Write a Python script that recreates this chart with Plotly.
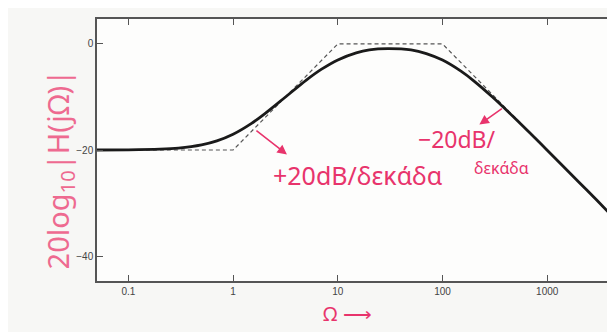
import plotly.graph_objects as go

# Magnitude response (Omega, dB)
omega = [0.05, 0.1, 0.2, 0.3, 0.5, 0.7, 1, 1.5, 2, 3, 5, 7, 10, 15, 20, 30,
         50, 70, 100, 150, 200, 300, 500, 700, 1000, 2000, 3000, 4540]
mag_db = [-20.0, -19.96, -19.83, -19.63, -19.03, -18.28, -17.03, -14.98, -13.18,
          -10.38, -6.82, -4.76, -3.01, -1.68, -1.13, -0.9, -1.14, -1.82, -3.05,
          -5.14, -7.0, -10.01, -14.15, -16.99, -20.04, -26.02, -29.54, -33.2]

# Straight-line asymptotes
asym_omega = [0.05, 1, 10, 100, 4540]
asym_db = [-20, -20, 0, 0, -33.2]

x_tickvals = [0.1, 1, 10, 100, 1000]
x_ticktext = ["0.1", "1", "10", "100", "1000"]
y_tickvals = [0, -20, -40]
y_ticktext = ["0", "\u221220", "\u221240"]

PINK = "#e8346c"
HAND = "Noto Sans"

fig = go.Figure()
fig.add_trace(go.Scatter(x=asym_omega, y=asym_db, mode="lines",
                         line=dict(color="#555555", width=1.2, dash="4px,3px"),
                         hoverinfo="skip"))
fig.add_trace(go.Scatter(x=omega, y=mag_db, mode="lines",
                         line=dict(color="#1a1a1a", width=2.8, shape="spline", smoothing=0.8),
                         hoverinfo="skip"))

axis_common = dict(showgrid=False, zeroline=False, showline=True, linecolor="#555555",
                   linewidth=1.5, mirror="ticks", ticks="inside", ticklen=6,
                   tickcolor="#555555", tickwidth=1,
                   tickfont=dict(family="Liberation Sans", size=10, color="#444444"))

fig.update_xaxes(type="log", range=[-1.3, 3.657], tickvals=x_tickvals,
                 ticktext=x_ticktext, **axis_common)
fig.update_yaxes(range=[-44.7, 4.7], tickvals=y_tickvals, ticktext=y_ticktext,
                 **axis_common)

annotations = [
    dict(x=1.195, y=-24.8, xref="x", yref="y", text="+20dB/\u03b4\u03b5\u03ba\u03ac\u03b4\u03b1",
         showarrow=False, font=dict(family=HAND, size=25, color=PINK)),
    dict(x=0.514, y=-20.85, xref="x", yref="y", text="", showarrow=True,
         ax=-32, ay=-25, arrowhead=2, arrowsize=1.2, arrowwidth=1.6, arrowcolor=PINK),
    dict(x=2.143, y=-18.0, xref="x", yref="y", text="\u221220dB/",
         showarrow=False, font=dict(family=HAND, size=23, color=PINK)),
    dict(x=2.562, y=-23.3, xref="x", yref="y", text="\u03b4\u03b5\u03ba\u03ac\u03b4\u03b1",
         showarrow=False, font=dict(family=HAND, size=16, color=PINK)),
    dict(x=2.352, y=-15.2, xref="x", yref="y", text="", showarrow=True,
         ax=24, ay=-17, arrowhead=2, arrowsize=1.2, arrowwidth=1.6, arrowcolor=PINK),
    dict(x=-0.117, y=0.425, xref="paper", yref="paper",
         text="20log<sub>10</sub>|H(j\u03a9)|", textangle=-90, showarrow=False,
         font=dict(family=HAND, size=29, color="#ee6a90")),
    dict(x=0.483, y=-0.185, xref="paper", yref="paper", text="\u03a9 \u27f6",
         showarrow=False, font=dict(family=HAND, size=20, color=PINK)),
]

fig.update_layout(width=615, height=332, showlegend=False,
                  margin=dict(l=89, r=5, t=11, b=59),
                  paper_bgcolor="#f7f7f5", plot_bgcolor="#fdfdfc",
                  annotations=annotations)

fig.write_html("out.html")
